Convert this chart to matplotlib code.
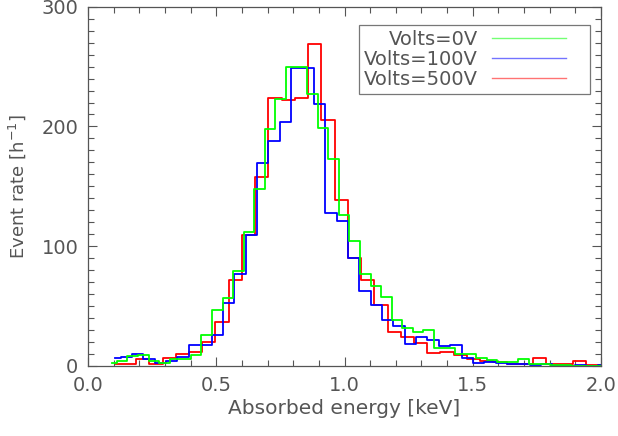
import numpy as np
from matplotlib import pyplot as plt
from matplotlib.legend_handler import HandlerLine2D
from matplotlib.ticker import MultipleLocator

# histogram step values (events per hour)
# each series: first bin centre, bin width, counts
volts_0_start, volts_0_width = 0.092, 0.0412
volts_0_counts = [2.5, 4.2, 8.3, 8.9, 4.2, 2.8, 5.5, 6, 9, 26,
                  47, 57, 79, 112, 148, 198, 223, 250, 250, 227,
                  199, 173, 126, 104, 77, 67, 57.5, 38, 32, 28.3,
                  29.7, 15.3, 15.3, 10.3, 9.7, 6.4, 5.3, 3.3, 3.3, 6,
                  1.4, 1.4, 0.8, 0.8, 0, 0, 0, 0]

volts_100_start, volts_100_width = 0.105, 0.0443
volts_100_counts = [6.4, 7.8, 10.3, 5.5, 2.5, 4, 7.5, 17.5, 17.5, 25.5,
                    52.8, 76.4, 109.7, 169.4, 188, 204, 249, 249, 219, 128,
                    121, 90, 63, 51, 38, 33, 18.6, 24.4, 21.7, 16.7,
                    17.8, 7, 2.3, 3.3, 2.5, 1.4, 2, 0.6, 1.4, 0,
                    0, 0.5, 0, 0.5]

volts_500_start, volts_500_width = 0.110, 0.0516
volts_500_counts = [2, 1.5, 5.5, 2, 6.4, 10.3, 12, 20, 37, 72,
                    109, 157.5, 224, 222, 224, 269, 205, 139, 90, 72,
                    51, 28, 24, 19, 10.5, 11.5, 9, 5.5, 4, 3.5,
                    2, 2, 7, 1.5, 1.5, 4, 1, 0.5]

series = [
    ("Volts=0V", volts_0_start, volts_0_width, volts_0_counts, "#00ff00"),
    ("Volts=100V", volts_100_start, volts_100_width, volts_100_counts, "#0000ff"),
    ("Volts=500V", volts_500_start, volts_500_width, volts_500_counts, "#ff0000"),
]

text_color = "#555555"
plt.rcParams["font.family"] = ["DejaVu Sans"]
plt.rcParams["mathtext.fontset"] = "dejavusans"


class ShortLineHandler(HandlerLine2D):
    # legend line that leaves some empty room on its right, like the original
    def get_xdata(self, legend, xdescent, ydescent, width, height, fontsize):
        xdata = np.array([-xdescent, -xdescent + width * 0.8])
        return xdata, xdata


fig = plt.figure(figsize=(6.18, 4.36), dpi=100)
ax = fig.add_axes([0.1424, 0.1606, 0.8301, 0.824])

# draw in reverse so that red sits on top like the original
for label, start, width, counts, color in reversed(series):
    centres = start + width * np.arange(len(counts))
    ax.step(centres, counts, where="mid", color=color, lw=1.3, label=label)

ax.set_xlim(0, 2.0)
ax.set_ylim(0, 300)
ax.xaxis.set_major_locator(MultipleLocator(0.5))
ax.xaxis.set_minor_locator(MultipleLocator(0.1))
ax.yaxis.set_major_locator(MultipleLocator(100))
ax.yaxis.set_minor_locator(MultipleLocator(10))
ax.xaxis.set_major_formatter(lambda v, pos: f"{v:.1f}")
ax.yaxis.set_major_formatter(lambda v, pos: f"{v:.0f}")

ax.tick_params(which="both", direction="in", top=True, right=True,
               color=text_color, labelcolor=text_color, labelsize=14, width=0.8)
ax.tick_params(which="major", length=6.5, pad=7)
ax.tick_params(which="minor", length=4.3)
for spine in ax.spines.values():
    spine.set_color(text_color)
    spine.set_linewidth(0.9)

ax.set_xlabel("Absorbed energy [keV]", fontsize=14.5, color=text_color, labelpad=3)
ax.set_ylabel("Event rate [h$^{-1}$]", fontsize=13, color=text_color, labelpad=10)

handles, labels = ax.get_legend_handles_labels()
leg = ax.legend(handles[::-1], labels[::-1], loc="upper right",
                bbox_to_anchor=(0.978, 0.948), markerfirst=False, fontsize=14,
                frameon=True, fancybox=False, edgecolor=text_color,
                handlelength=4.8, handletextpad=0.7, labelspacing=0.05,
                borderpad=0.25, borderaxespad=0,
                handler_map={h: ShortLineHandler() for h in handles})
leg.get_frame().set_linewidth(0.9)
for text in leg.get_texts():
    text.set_color(text_color)
for line in leg.get_lines():
    line.set_linewidth(1.0)
    line.set_alpha(0.55)

fig.savefig("out.png", dpi=100)
